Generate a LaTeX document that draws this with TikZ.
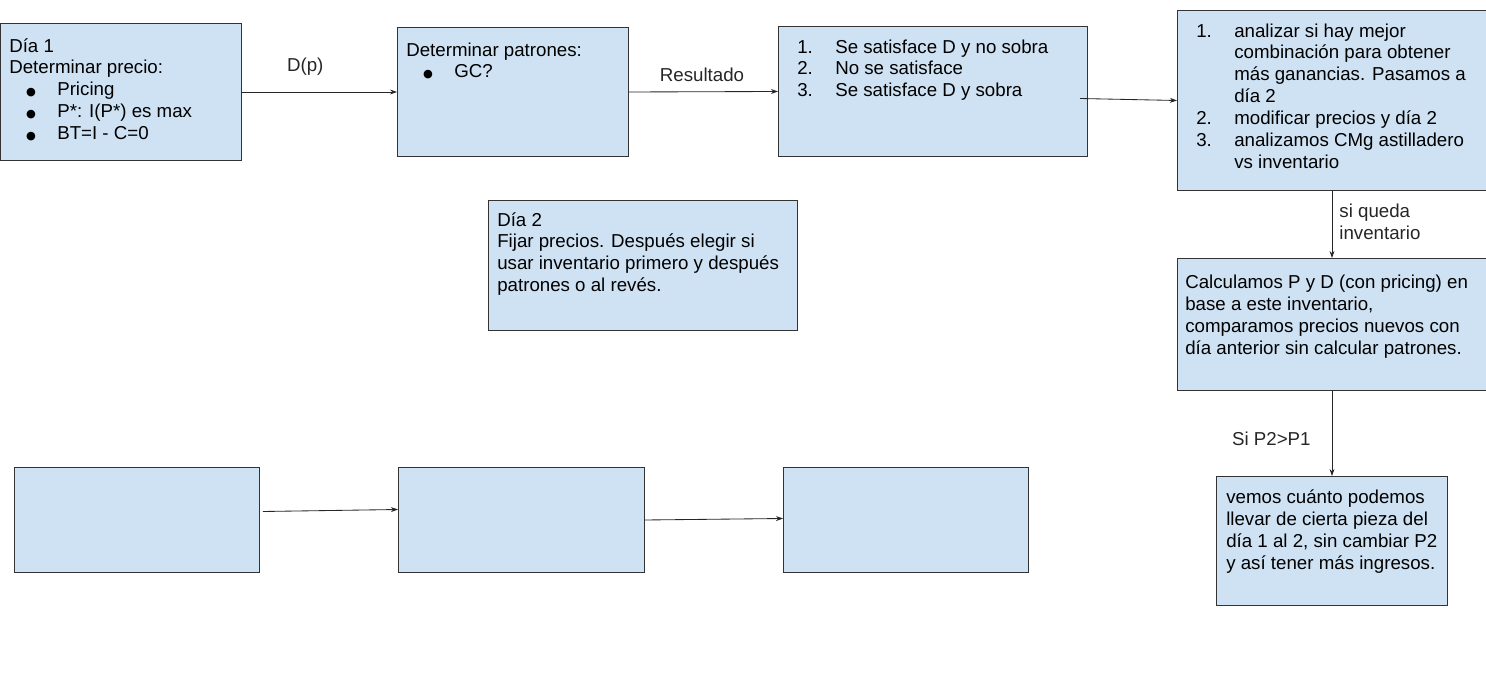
\documentclass[tikz,border=0pt]{standalone}
\usepackage{fontspec}
\setmainfont{Liberation Sans}
\newfontfamily\symfont{DejaVu Sans}
\usetikzlibrary{arrows.meta}
\definecolor{azul}{HTML}{CFE2F3}
\def\px{0.025cm}
\newcommand{\punto}{{\symfont\fontsize{8}{8}\selectfont ●}}
\newcommand{\vin}[1]{\hspace*{0.42cm}\makebox[0.78cm][l]{\punto}#1}
\newcommand{\enu}[2]{\hspace*{0.25cm}\makebox[0.95cm][l]{#1}#2}
\newcommand{\sig}[1]{\hspace*{1.2cm}#1}
\newcommand{\lineas}[1]{\begin{tabular}[t]{@{}l@{}}#1\end{tabular}}
\begin{document}
\begin{tikzpicture}[x=0.025cm,y=-0.025cm,
  caja/.style 2 args={draw=black!80, line width=0.7pt, fill=azul, inner sep=0pt, anchor=north west, minimum width=#1*\px, minimum height=#2*\px},
  texto/.style={anchor=base west, inner sep=0pt, font=\fontsize{13.3}{15.6}\selectfont},
  flecha/.style={-{Stealth[length=5pt,width=3.5pt]}, line width=0.6pt, black!85},
  etiqueta/.style={inner sep=0pt, font=\fontsize{13.3}{15.6}\selectfont}]
  \useasboundingbox (0,0) rectangle (1486,677);
  \node[caja={240}{137}] (dia1) at (0.5,23) {};
  \node[caja={231}{129}] (patrones) at (397,27) {};
  \node[caja={309}{130}] (resultado) at (778,26) {};
  \node[caja={309}{180}] (analisis) at (1177,10) {};
  \node[caja={309}{132}] (calculo) at (1177,258) {};
  \node[caja={231}{129}] (vemos) at (1216,476) {};
  \node[caja={309}{130}] (dia2) at (488,200) {};
  \node[caja={245}{105}] (vaciaA) at (14,467) {};
  \node[caja={246}{105}] (vaciaB) at (398,467) {};
  \node[caja={245}{105}] (vaciaC) at (783,467) {};
  \node[texto] (tdia1) at (9,52) {\lineas{Día 1\\Determinar precio:\\\vin{Pricing}\\\vin{P*: I(P*) es max}\\\vin{BT=I - C=0}}};
  \node[texto] (tpatrones) at (406,56) {\lineas{Determinar patrones:\\\vin{GC?}}};
  \node[texto] (tresultado) at (787,53) {\lineas{\enu{1.}{Se satisface D y no sobra}\\\enu{2.}{No se satisface}\\\enu{3.}{Se satisface D y sobra}}};
  \node[texto] (tanalisis) at (1186,37) {\lineas{\enu{1.}{analizar si hay mejor}\\\sig{combinación para obtener}\\\sig{más ganancias. Pasamos a}\\\sig{día 2}\\\enu{2.}{modificar precios y día 2}\\\enu{3.}{analizamos CMg astilladero}\\\sig{vs inventario}}};
  \node[texto] (tcalculo) at (1185,288.5) {\lineas{Calculamos P y D (con pricing) en\\base a este inventario,\\comparamos precios nuevos con\\día anterior sin calcular patrones.}};
  \node[texto] (tvemos) at (1226,503.5) {\lineas{vemos cuánto podemos\\llevar de cierta pieza del\\día 1 al 2, sin cambiar P2\\y así tener más ingresos.}};
  \node[texto] (tdia2) at (497,226) {\lineas{Día 2\\Fijar precios. Después elegir si\\usar inventario primero y después\\patrones o al revés.}};
  \draw[flecha] (dia1.east) -- node[etiqueta, pos=0.41, anchor=base, yshift=20*\px] (ldp) {D(p)} (patrones.west);
  \draw[flecha] (patrones.east) -- node[etiqueta, pos=0.49, anchor=base, yshift=10*\px] (lres) {Resultado} (resultado.west);
  \coordinate (finres) at (1080,98.5);
  \draw[flecha] (finres) -- (analisis.west);
  \draw[flecha] (analisis.south) -- node[etiqueta, right, xshift=7*\px] (lsi) {\lineas{si queda\\inventario}} (calculo.north);
  \draw[flecha] (calculo.south) -- node[etiqueta, left, xshift=-21*\px, yshift=-5*\px] (lp) {Si P2>P1} (vemos.north);
  \draw[flecha] ([xshift=3*\px, yshift=8.5*\px]vaciaA.east) -- ([yshift=10.5*\px]vaciaB.west);
  \draw[flecha] (vaciaB.east) -- ([yshift=1.5*\px]vaciaC.west);
\end{tikzpicture}
\end{document}
